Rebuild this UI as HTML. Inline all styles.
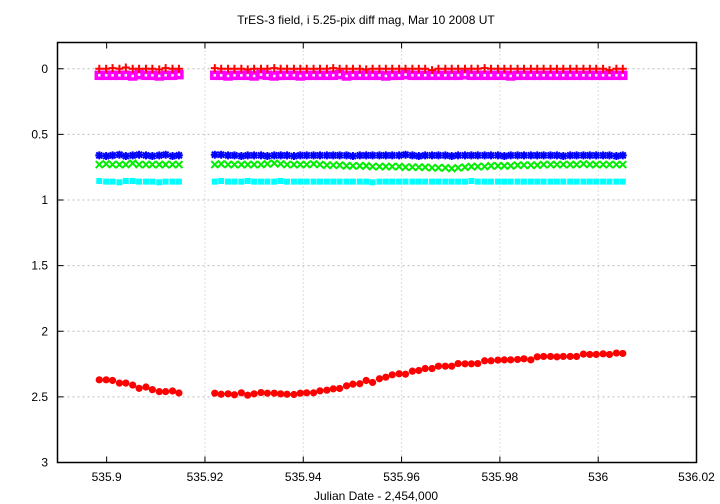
<!DOCTYPE html>
<html><head><meta charset="utf-8"><style>
html,body{margin:0;padding:0;background:#fff;}
svg{display:block;font-family:"Liberation Sans",Arial,sans-serif;}
</style></head><body>
<svg id="chart" width="720" height="504" viewBox="0 0 720 504" xmlns="http://www.w3.org/2000/svg">
<rect x="0" y="0" width="720" height="504" fill="#fff"/>
<text x="366" y="24" font-size="12" text-anchor="middle" fill="#000">TrES-3 field, i 5.25-pix diff mag, Mar 10 2008 UT</text>
<text x="376" y="500" font-size="12" text-anchor="middle" fill="#000">Julian Date - 2,454,000</text>
<g id="grid"></g>
<g id="marks"></g>
<rect x="57.5" y="42.5" width="639" height="420" fill="none" stroke="#000" stroke-width="1.5"/>
<g id="axes"></g>
</svg>
<script>
const xTicks = [535.9, 535.92, 535.94, 535.96, 535.98, 536, 536.02];
const xTickLabels = ["535.9", "535.92", "535.94", "535.96", "535.98", "536", "536.02"];
const yTicks = [0, 0.5, 1, 1.5, 2, 2.5, 3];
const yTickLabels = ["0", "0.5", "1", "1.5", "2", "2.5", "3"];
const times = [535.8985,535.8999,535.9012,535.9026,535.9039,535.9053,535.9066,535.9080,535.9093,535.9107,535.9120,535.9134,535.9147,
535.9220,535.9233,535.9247,535.9260,535.9274,535.9287,535.9300,535.9314,535.9327,535.9341,535.9354,535.9367,535.9381,535.9394,535.9407,535.9421,535.9434,535.9448,535.9461,535.9474,535.9488,535.9501,535.9515,535.9528,535.9541,535.9555,535.9568,535.9581,535.9595,535.9608,535.9622,535.9635,535.9648,535.9662,535.9675,535.9689,535.9702,535.9715,535.9729,535.9742,535.9755,535.9769,535.9782,535.9796,535.9809,535.9822,535.9836,535.9849,535.9863,535.9876,535.9889,535.9903,535.9916,535.9929,535.9943,535.9956,535.9970,535.9983,535.9996,536.0010,536.0023,536.0037,536.0050];
const magTres = [2.37,2.37,2.375,2.395,2.395,2.41,2.435,2.425,2.445,2.46,2.46,2.455,2.47,
2.472,2.48,2.477,2.484,2.469,2.487,2.477,2.467,2.472,2.472,2.477,2.48,2.482,
2.472,2.469,2.469,2.454,2.449,2.439,2.436,2.416,2.403,2.4,2.375,2.39,2.362,2.35,2.332,2.324,2.327,2.304,2.299,2.284,2.284,2.266,2.266,2.266,2.246,2.248,2.248,2.246,2.225,2.225,2.22,2.218,2.218,2.215,2.21,2.218,2.195,2.192,2.192,2.195,2.192,2.192,2.192,2.174,2.177,2.177,2.172,2.177,2.166,2.169];
const magRed = [0,0,-0.005,0,-0.01,0,0,0,0,0.005,-0.005,0,0,
-0.005,0,0,0,0,0.005,0,0,0,-0.005,0,0,0,0,0,0,0,0,-0.005,0,0,0,0,0.005,0,0,0,0,0,0,0,0,0,0.01,0,0,0,0,0,0,0,-0.005,0,0,0,0,0,0,0,0,0,0,0,0,0,0,0,0,0,0,0.01,0,0];
const magMagenta = [0.05,0.05,0.05,0.05,0.05,0.055,0.045,0.05,0.05,0.055,0.05,0.05,0.045,
0.05,0.05,0.055,0.05,0.05,0.05,0.055,0.045,0.05,0.055,0.05,0.05,0.05,0.055,0.05,0.05,0.05,0.05,0.05,0.045,0.055,0.05,0.05,0.05,0.05,0.05,0.055,0.05,0.05,0.045,0.05,0.05,0.05,0.05,0.05,0.05,0.05,0.05,0.045,0.05,0.05,0.05,0.05,0.05,0.05,0.055,0.05,0.05,0.05,0.05,0.05,0.05,0.05,0.05,0.05,0.05,0.05,0.05,0.05,0.05,0.05,0.05,0.05];
const magBlue = [0.66,0.665,0.66,0.655,0.665,0.66,0.655,0.66,0.665,0.66,0.655,0.665,0.66,
0.655,0.655,0.66,0.66,0.665,0.66,0.66,0.66,0.665,0.66,0.66,0.66,0.665,0.66,0.66,0.66,0.66,0.66,0.66,0.66,0.66,0.665,0.66,0.66,0.66,0.66,0.66,0.66,0.66,0.655,0.66,0.665,0.66,0.66,0.66,0.66,0.665,0.66,0.66,0.66,0.66,0.66,0.66,0.66,0.665,0.66,0.66,0.66,0.66,0.66,0.66,0.66,0.66,0.665,0.66,0.66,0.66,0.66,0.66,0.66,0.66,0.665,0.66];
const magGreen = [0.73,0.725,0.73,0.73,0.73,0.72,0.73,0.73,0.73,0.73,0.73,0.73,0.73,
0.73,0.725,0.73,0.73,0.73,0.73,0.73,0.73,0.725,0.72,0.725,0.73,0.73,0.73,0.73,0.725,0.73,0.735,0.735,0.735,0.74,0.74,0.74,0.74,0.745,0.745,0.745,0.745,0.745,0.75,0.75,0.75,0.75,0.755,0.755,0.755,0.76,0.755,0.75,0.745,0.745,0.745,0.74,0.74,0.74,0.74,0.735,0.735,0.735,0.735,0.73,0.73,0.73,0.73,0.73,0.73,0.725,0.73,0.73,0.73,0.73,0.73,0.73];
const magCyan = [0.855,0.86,0.86,0.865,0.855,0.855,0.86,0.86,0.86,0.865,0.86,0.86,0.86,
0.86,0.855,0.86,0.86,0.86,0.855,0.86,0.86,0.86,0.86,0.855,0.86,0.86,0.86,0.86,0.86,0.86,0.86,0.86,0.86,0.86,0.86,0.86,0.86,0.865,0.86,0.86,0.86,0.86,0.86,0.86,0.86,0.86,0.86,0.86,0.86,0.86,0.86,0.86,0.855,0.86,0.86,0.86,0.86,0.86,0.86,0.86,0.86,0.86,0.86,0.86,0.86,0.86,0.86,0.86,0.86,0.86,0.86,0.86,0.86,0.86,0.86,0.86];

const NS = "http://www.w3.org/2000/svg";
const L = 57.5, R = 696.5, T = 42.5, B = 462.5;
const xMin = 535.89, xMax = 536.02, yMin = -0.2, yMax = 3;
function xs(v){ return L + (v - xMin) / (xMax - xMin) * (R - L); }
function ys(v){ return T + (v - yMin) / (yMax - yMin) * (B - T); }
function mk(tag, attrs, parent){ const e = document.createElementNS(NS, tag); for (const k in attrs) e.setAttribute(k, attrs[k]); parent.appendChild(e); return e; }

const grid = document.getElementById('grid');
const axes = document.getElementById('axes');
xTicks.forEach((t, i) => {
  const x = xs(t);
  if (i > 0 && i < xTicks.length - 1) {
    const g = mk('line', {x1:x, x2:x, y1:T, y2:B, stroke:'#bbb', 'stroke-width':1, 'stroke-dasharray':'1,3'}, grid);
    
    
  }
  const tk = mk('path', {d:`M${x},${B}v-6M${x},${T}v6`, stroke:'#000', 'stroke-width':1}, axes);
  
  
  const lb = mk('text', {x:x, y:481, 'font-size':12, 'text-anchor':'middle', fill:'#000'}, axes);
  lb.textContent = xTickLabels[i];
  
  
});
yTicks.forEach((t, i) => {
  const y = ys(t);
  if (i < yTicks.length - 1) {
    const g = mk('line', {x1:L, x2:R, y1:y, y2:y, stroke:'#bbb', 'stroke-width':1, 'stroke-dasharray':'2,3'}, grid);
    
    
  }
  const tk = mk('path', {d:`M${L},${y}h6M${R},${y}h-6`, stroke:'#000', 'stroke-width':1}, axes);
  
  
  const lb = mk('text', {x:48, y:y + 4, 'font-size':12, 'text-anchor':'end', fill:'#000'}, axes);
  lb.textContent = yTickLabels[i];
  
  
});

const marks = document.getElementById('marks');
function drawSeries(vals, name, draw){
  const g = mk('g', {}, marks);
  
  
  vals.forEach((v, i) => draw(g, xs(times[i]), ys(v)));
}
drawSeries(magCyan, 'series-cyan-squares', (g, x, y) => {
  const e = mk('rect', {x:x-3, y:y-3, width:6, height:6, fill:'#00ffff'}, g);
  
  
});
drawSeries(magGreen, 'series-green-crosses', (g, x, y) => {
  const e = mk('path', {d:`M${x-3.5},${y-3.5}L${x+3.5},${y+3.5}M${x-3.5},${y+3.5}L${x+3.5},${y-3.5}`, stroke:'#00ee00', 'stroke-width':2}, g);
  
  
});
drawSeries(magBlue, 'series-blue-stars', (g, x, y) => {
  const e = mk('path', {d:`M${x-4},${y}h8M${x},${y-4}v8M${x-3},${y-3}L${x+3},${y+3}M${x-3},${y+3}L${x+3},${y-3}`, stroke:'#0000ff', 'stroke-width':2}, g);
  
  
});
drawSeries(magMagenta, 'series-magenta-boxes', (g, x, y) => {
  const e = mk('rect', {x:x-3, y:y-3, width:6, height:6, fill:'#fff', stroke:'#ff00ff', 'stroke-width':3.5}, g);
  
  
});
drawSeries(magRed, 'series-red-plus', (g, x, y) => {
  const e = mk('path', {d:`M${x-4},${y}h8M${x},${y-4}v8`, stroke:'#ff0000', 'stroke-width':2}, g);
  
  
});
drawSeries(magTres, 'series-tres3-circles', (g, x, y) => {
  const e = mk('circle', {cx:x, cy:y, r:3.6, fill:'#ff0000'}, g);
  
  
});
</script>
</body></html>
